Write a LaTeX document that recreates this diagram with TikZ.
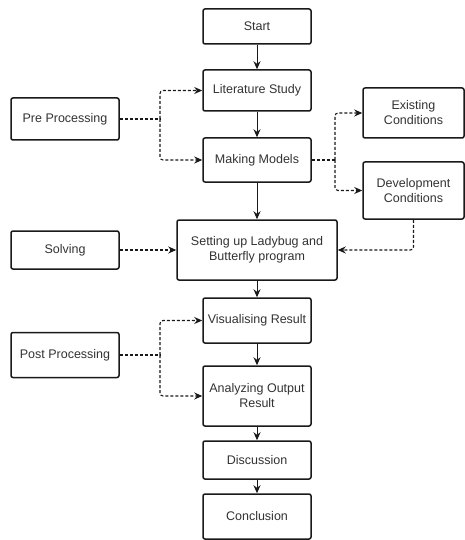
\documentclass[tikz,border=0pt]{standalone}
\usepackage{fontspec}
\setmainfont{Liberation Sans}
\usepackage{tikz}
\usetikzlibrary{arrows.meta, positioning}
\definecolor{boxline}{RGB}{25,25,25}
\definecolor{boxtext}{RGB}{50,50,50}

\tikzset{
    stepbox/.style={draw=boxline, line width=1.5pt, rounded corners=2pt,
        minimum width=108pt, inner sep=1pt, align=center,
        text=boxtext, font=\fontsize{12.5}{15}\selectfont},
    flow/.style={boxline, line width=1pt, -{Stealth[length=8pt,width=7pt]}},
    dline/.style={boxline, line width=1.1pt, dashed, dash pattern=on 3pt off 2pt,
        rounded corners=3pt},
    darrow/.style={dline, -{Stealth[length=8pt,width=7pt]}}
}

\begin{document}
\begin{tikzpicture}[x=1pt, y=-1pt]
    \useasboundingbox (0,0) rectangle (465,540);

    % Main chain
    \node[stepbox, minimum height=35pt] (start) at (257,26.5) {Start};
    \node[stepbox, minimum height=41pt] (lit) at (257,90.5) {Literature Study};
    \node[stepbox, minimum height=44pt] (models) at (257,160) {Making Models};
    \node[stepbox, minimum width=160pt, minimum height=60pt] (setup) at (257,250) {Setting up Ladybug and\\Butterfly program};
    \node[stepbox, minimum height=45pt] (vis) at (257,320.5) {Visualising Result};
    \node[stepbox, minimum height=60pt] (analyze) at (257,396) {Analyzing Output\\Result};
    \node[stepbox, minimum height=38pt] (disc) at (257,460) {Discussion};
    \node[stepbox, minimum height=45pt] (concl) at (257,516.5) {Conclusion};

    % Side boxes
    \node[stepbox, minimum height=42pt] (pre) at (65,119) {Pre Processing};
    \node[stepbox, minimum height=38pt] (solving) at (65,250) {Solving};
    \node[stepbox, minimum height=45pt] (post) at (65,355) {Post Processing};
    \node[stepbox, minimum width=101pt, minimum height=50pt] (exist) at (413.5,113) {Existing\\Conditions};
    \node[stepbox, minimum width=101pt, minimum height=57pt] (devel) at (413.5,190.5) {Development\\Conditions};

    % Solid flow
    \draw[flow] (start) -- (lit);
    \draw[flow] (lit) -- (models);
    \draw[flow] (models) -- (setup);
    \draw[flow] (setup) -- (vis);
    \draw[flow] (vis) -- (analyze);
    \draw[flow] (analyze) -- (disc);
    \draw[flow] (disc) -- (concl);

    % Dashed links
    \coordinate (prefork) at (160,119);
    \draw[dline, line width=1.9pt] (pre.east) -- (prefork);
    \draw[darrow] (prefork) |- (lit.west);
    \draw[darrow] (prefork) |- (models.west);

    \coordinate (modfork) at (335,160);
    \draw[dline] (models.east) -- (modfork);
    \draw[darrow] (modfork) |- (exist.west);
    \draw[darrow] (modfork) |- (devel.west);

    \draw[darrow] (devel.south) |- (setup.east);
    \draw[darrow] (solving.east) -- (setup.west);

    \coordinate (postfork) at (160,355);
    \draw[dline] (post.east) -- (postfork);
    \draw[darrow] (postfork) |- (vis.west);
    \draw[darrow] (postfork) |- (analyze.west);
\end{tikzpicture}
\end{document}
